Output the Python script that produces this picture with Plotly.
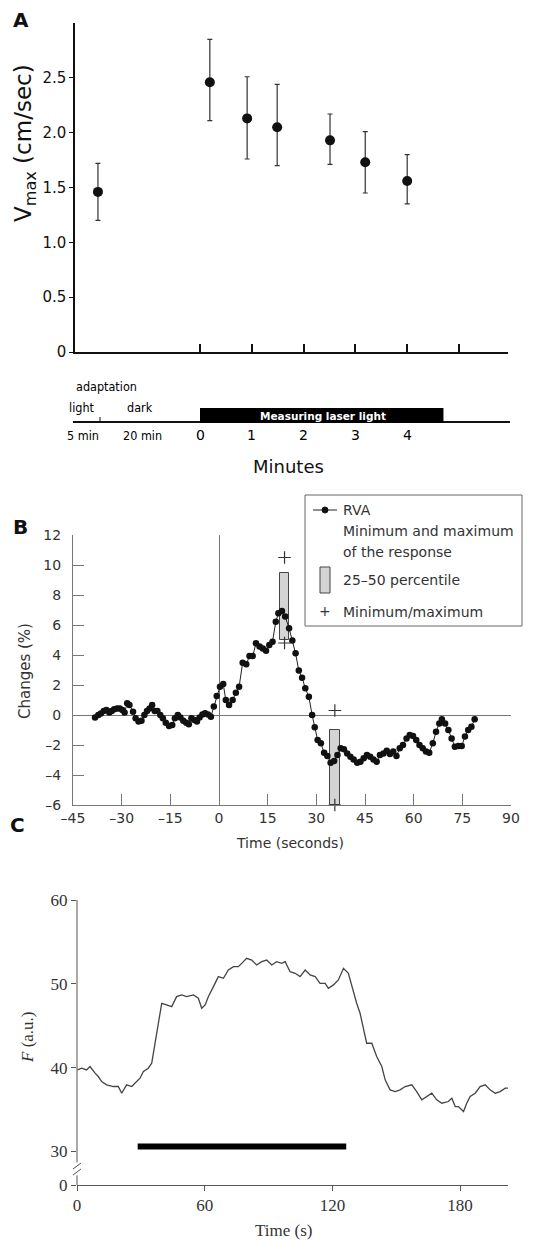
import plotly.graph_objects as go

W, H = 555, 1243
def PX(p): return p / W
def PY(p): return 1 - p / H

# ---------------- Panel A data ----------------
a_minutes = [-1.97, 0.19, 0.91, 1.49, 2.51, 3.19, 4.0]
a_vmax = [1.46, 2.46, 2.13, 2.05, 1.93, 1.73, 1.56]
a_err_hi = [1.72, 2.85, 2.51, 2.44, 2.17, 2.01, 1.80]
a_err_lo = [1.20, 2.11, 1.76, 1.70, 1.71, 1.45, 1.35]
a_yticks = [0, 0.5, 1.0, 1.5, 2.0, 2.5]
a_yticktext = ["0", "0.5", "1.0", "1.5", "2.0", "2.5"]
a_min_labels = ["0", "1", "2", "3", "4"]
laser_on = [0, 4.7]

# ---------------- Panel B data ----------------
b_time = [-38.2, -37.2, -36.4, -35.5, -34.7, -33.8, -33.1, -32.3, -31.4, -30.6,
          -29.8, -29.1, -28.3, -27.6, -26.5, -25.7, -24.8, -23.9, -23.0, -22.2,
          -21.4, -20.6, -19.8, -19.0, -18.1, -17.3, -16.4, -15.4, -14.4, -13.6,
          -12.7, -11.9, -11.0, -10.1, -9.3, -8.5, -7.6, -6.8, -6.0, -5.1,
          -4.3, -3.4, -2.5, -1.6, -0.7, 0.3, 1.3, 2.1, 3.1, 4.2,
          5.2, 6.2, 7.3, 8.4, 9.4, 10.4, 11.4, 12.5, 13.5, 14.5,
          15.5, 16.5, 17.5, 18.3, 19.4, 20.4, 21.6, 22.6, 23.6, 24.6,
          25.6, 26.6, 27.7, 28.7, 29.5, 30.4, 31.4, 32.4, 33.4, 34.4,
          35.5, 36.5, 37.5, 38.5, 39.5, 40.5, 41.5, 42.6, 43.6, 44.6,
          45.6, 46.6, 47.6, 48.6, 49.6, 50.7, 51.7, 52.7, 53.7, 54.7,
          55.7, 56.7, 57.8, 58.8, 59.8, 60.8, 61.8, 62.8, 63.8, 64.8,
          65.9, 66.9, 67.9, 68.7, 69.7, 70.7, 71.7, 72.7, 73.8, 74.8,
          75.8, 76.8, 77.8, 78.8]
b_change = [-0.16, 0.0, 0.10, 0.27, 0.33, 0.16, 0.27, 0.38, 0.44, 0.44,
            0.33, 0.16, 0.78, 0.67, 0.22, -0.22, -0.44, -0.38, 0.0, 0.27,
            0.44, 0.67, 0.27, 0.27, 0.0, -0.22, -0.51, -0.73, -0.67, -0.22,
            0.0, -0.16, -0.38, -0.51, -0.62, -0.22, -0.33, -0.44, -0.16, 0.04,
            0.11, 0.04, -0.11, 0.56, 1.27, 1.89, 2.07, 1.0, 0.67, 1.0,
            1.49, 1.89, 3.49, 3.38, 3.93, 3.93, 4.78, 4.56, 4.44, 4.29,
            4.67, 4.89, 6.22, 6.78, 6.93, 6.56, 5.78, 4.96, 4.11, 2.96,
            2.49, 1.78, 1.22, 0.0, -0.82, -1.67, -1.89, -2.51, -2.73, -3.18,
            -3.07, -2.67, -2.22, -2.29, -2.56, -2.78, -2.96, -3.18, -3.11, -2.89,
            -2.67, -2.78, -2.96, -3.11, -2.67, -2.56, -2.38, -2.60, -2.44, -2.73,
            -2.22, -2.0, -1.56, -1.33, -1.40, -1.67, -2.0, -2.22, -2.44, -2.51,
            -1.89, -1.11, -0.56, -0.29, -0.56, -1.0, -1.56, -2.11, -2.07, -2.07,
            -1.44, -1.0, -0.78, -0.29]
b_box_x = [20.2, 35.7]
b_box_lo = [5.0, -6.0]
b_box_hi = [9.5, -1.0]
b_box_w = [3.0, 3.2]
b_ext_x = [20.2, 20.2, 35.7, 35.7]
b_ext_y = [10.5, 4.8, 0.3, -6.0]
b_xticks = [-45, -30, -15, 0, 15, 30, 45, 60, 75, 90]
b_yticks = [-6, -4, -2, 0, 2, 4, 6, 8, 10, 12]

# ---------------- Panel C data ----------------
c_time = [0.2, 2.2, 4.5, 6.1, 8.5, 10.0, 11.6, 13.9, 17.1, 19.4, 21.0, 23.3, 25.7,
          28.0, 29.6, 31.2, 33.5, 35.1, 36.7, 38.2, 39.8, 42.1, 44.5, 46.8, 49.2,
          51.5, 54.7, 57.0, 58.6, 60.2, 61.7, 64.1, 66.4, 68.8, 71.1, 73.5, 75.8,
          78.2, 79.7, 82.1, 84.4, 86.8, 89.1, 91.5, 93.8, 96.2, 97.8, 100.1, 102.5,
          104.8, 107.2, 109.5, 111.9, 114.2, 116.6, 118.1, 120.5, 122.8, 125.2,
          127.5, 129.1, 131.4, 133.0, 134.6, 136.1, 138.5, 140.8, 143.2, 144.8,
          147.1, 149.5, 151.8, 154.2, 157.3, 159.6, 162.0, 164.3, 166.7, 169.0,
          171.4, 174.5, 176.1, 177.7, 179.2, 181.6, 183.1, 184.7, 187.1, 189.4,
          191.8, 194.1, 196.5, 198.8, 201.2, 202.7]
c_f = [39.73, 39.93, 39.73, 40.13, 39.34, 38.94, 38.34, 37.95, 37.75, 37.75, 36.95,
       37.95, 37.75, 38.34, 38.74, 39.54, 39.93, 40.53, 42.91, 45.30, 47.68, 47.48,
       47.28, 48.47, 48.67, 48.47, 48.67, 48.28, 47.08, 47.48, 48.47, 49.67, 50.86,
       50.66, 51.65, 52.05, 52.05, 52.65, 53.04, 52.84, 52.25, 52.65, 52.84, 52.25,
       52.65, 52.45, 52.65, 51.45, 51.26, 50.86, 51.65, 51.06, 50.86, 50.06, 50.06,
       49.47, 49.87, 50.46, 51.85, 51.26, 49.67, 47.68, 46.49, 44.50, 42.91, 42.91,
       41.32, 40.13, 38.54, 37.35, 37.15, 37.35, 37.75, 37.95, 37.15, 36.16, 36.56,
       36.95, 36.16, 35.76, 35.96, 36.36, 35.36, 35.36, 34.77, 35.76, 36.56, 36.95,
       37.75, 37.95, 37.35, 36.95, 37.15, 37.55, 37.55]
c_stim_x = [28.5, 126.5]
c_stim_y = [30.6, 30.6]
c_xticks = [0, 60, 120, 180]
c_yticks = [26.0, 30, 40, 50, 60]
c_yticktext = ["0", "30", "40", "50", "60"]

SANS = "DejaVu Sans"
SERIF = "Liberation Serif"

fig = go.Figure()

# Panel A
fig.add_trace(go.Scatter(
    x=a_minutes, y=a_vmax, mode="markers", xaxis="x", yaxis="y",
    marker=dict(size=10, color="#111"),
    error_y=dict(type="data", symmetric=False,
                 array=[h - v for h, v in zip(a_err_hi, a_vmax)],
                 arrayminus=[v - l for l, v in zip(a_err_lo, a_vmax)],
                 color="#333", thickness=1.2, width=2.5),
    showlegend=False))

# Panel B
fig.add_trace(go.Bar(
    x=b_box_x, y=[h - l for h, l in zip(b_box_hi, b_box_lo)], base=b_box_lo,
    width=b_box_w, xaxis="x2", yaxis="y2",
    marker=dict(color="#d4d4d4", line=dict(color="#444", width=1)),
    showlegend=False))
fig.add_trace(go.Scatter(
    x=b_time, y=b_change, mode="lines+markers", xaxis="x2", yaxis="y2",
    line=dict(color="#222", width=1),
    marker=dict(size=6.5, color="#111"),
    showlegend=False))
fig.add_trace(go.Scatter(
    x=b_ext_x, y=b_ext_y, mode="markers", xaxis="x2", yaxis="y2",
    marker=dict(symbol="cross-thin", size=9, line=dict(color="#333", width=1.2)),
    cliponaxis=False, showlegend=False))

# Panel C
fig.add_trace(go.Scatter(
    x=c_time, y=c_f, mode="lines", xaxis="x3", yaxis="y3",
    line=dict(color="#444", width=1.3), showlegend=False))
fig.add_trace(go.Scatter(
    x=c_stim_x, y=c_stim_y, mode="lines", xaxis="x3", yaxis="y3",
    line=dict(color="#000", width=6), showlegend=False))

a_x0 = (75 - 200) / 51.8
a_x1 = (508 - 200) / 51.8

layout = dict(
    template="none",
    width=W, height=H, margin=dict(l=0, r=0, t=0, b=0, pad=0, autoexpand=False),
    paper_bgcolor="white", plot_bgcolor="white",
    # ---- A ----
    xaxis=dict(domain=[PX(75), PX(508)], range=[a_x0, a_x1], anchor="y", automargin=False,
               tickvals=[0, 1, 2, 3, 4, 5], showticklabels=False,
               ticks="inside", ticklen=8, tickwidth=1.5, tickcolor="#111",
               showline=True, linecolor="#111", linewidth=2,
               showgrid=False, zeroline=False),
    yaxis=dict(domain=[PY(352), PY(23)], range=[0, 3.0], anchor="x", automargin=False,
               tickvals=a_yticks, ticktext=a_yticktext,
               ticks="outside", ticklen=4, tickcolor="#111",
               tickfont=dict(family=SANS, size=15, color="#111"),
               showline=True, linecolor="#111", linewidth=1.5,
               showgrid=False, zeroline=False),
    # ---- B ----
    xaxis2=dict(domain=[PX(73), PX(511)], range=[-45, 90], anchor="y2", automargin=False,
                tickvals=b_xticks, ticktext=[str(v).replace("-", "\u2013") for v in b_xticks],
                ticks="inside", ticklen=11, tickcolor="#777",
                tickfont=dict(family=SANS, size=14, color="#333"),
                showline=True, linecolor="#777", linewidth=1,
                showgrid=False, zeroline=True, zerolinecolor="#777", zerolinewidth=1),
    yaxis2=dict(domain=[PY(805), PY(535)], range=[-6, 12], anchor="x2", automargin=False,
                tickvals=b_yticks, ticktext=[str(v).replace("-", "\u2013") for v in b_yticks],
                ticks="inside", ticklen=11, tickcolor="#777",
                ticklabelstandoff=8,
                tickfont=dict(family=SANS, size=14, color="#333"),
                showline=True, linecolor="#777", linewidth=1,
                showgrid=False, zeroline=True, zerolinecolor="#777", zerolinewidth=1),
    # ---- C ----
    xaxis3=dict(domain=[PX(77), PX(508)], range=[0, 202.5], anchor="y3", automargin=False,
                tickvals=c_xticks, ticks="outside", ticklen=5, tickcolor="#555",
                tickfont=dict(family=SERIF, size=17, color="#333"),
                showline=True, linecolor="#555", linewidth=1,
                showgrid=False, zeroline=False),
    yaxis3=dict(domain=[PY(1185), PY(900)], range=[26.0, 60], anchor="x3", automargin=False,
                tickvals=c_yticks, ticktext=c_yticktext,
                ticks="outside", ticklen=5, tickcolor="#555",
                tickfont=dict(family=SERIF, size=17, color="#333"),
                showline=False, showgrid=False, zeroline=False),
    bargap=0,
    showlegend=False,
)
fig.update_layout(**layout)

shapes = []
ann = []

def text(x, y, s, size, family=SANS, color="#111", angle=0, bold=False, xanchor="center", xref="paper"):
    if bold:
        s = "<b>" + s + "</b>"
    ann.append(dict(x=x if xref != "paper" else PX(x), y=PY(y), xref=xref, yref="paper",
                    text=s, showarrow=False, xanchor=xanchor, yanchor="middle",
                    textangle=angle, font=dict(family=family, size=size, color=color)))

# ---- Panel A annotations & timeline ----
text(21, 20, "A", 20, bold=True)
text(25, 143, "V<sub>max</sub> (cm/sec)", 23, angle=-90)
shapes.append(dict(type="line", xref="paper", yref="paper",
                   x0=PX(73), x1=PX(510), y0=PY(422), y1=PY(422),
                   line=dict(color="#111", width=2)))
shapes.append(dict(type="line", xref="paper", yref="paper",
                   x0=PX(100), x1=PX(100), y0=PY(417), y1=PY(422),
                   line=dict(color="#111", width=1)))
shapes.append(dict(type="rect", xref="x", yref="paper",
                   x0=laser_on[0], x1=laser_on[1], y0=PY(423), y1=PY(408),
                   fillcolor="#000", line=dict(width=0)))
text(323, 416, "Measuring laser light", 10.5, color="white", bold=True)
COND = "DejaVu Sans Condensed"
text(106, 386, "adaptation", 12.5, family=COND, color="#000")
text(82, 407, "light", 12.5, family=COND, color="#000")
text(140, 407, "dark", 12.5, family=COND, color="#000")
text(83, 435, "5 min", 12.5, family=COND, color="#000")
text(142, 435, "20 min", 12.5, family=COND, color="#000")
for i, lab in enumerate(a_min_labels):
    ann.append(dict(x=i, y=PY(435), xref="x", yref="paper", text=lab, showarrow=False,
                    xanchor="center", yanchor="middle",
                    font=dict(family=SANS, size=14, color="#000")))
text(288, 467, "Minutes", 18)

# ---- Panel B annotations & legend ----
text(20, 527, "B", 20, bold=True)
text(25, 671, "Changes (%)", 15, color="#333", angle=-90)
text(290, 843, "Time (seconds)", 14, color="#333")
shapes.append(dict(type="rect", xref="paper", yref="paper",
                   x0=PX(305), x1=PX(522), y0=PY(626), y1=PY(495),
                   fillcolor="white", line=dict(color="#666", width=1), layer="above"))
shapes.append(dict(type="line", xref="paper", yref="paper",
                   x0=PX(313), x1=PX(337), y0=PY(510), y1=PY(510),
                   line=dict(color="#222", width=1), layer="above"))
shapes.append(dict(type="circle", xref="paper", yref="paper",
                   x0=PX(322), x1=PX(328), y0=PY(513), y1=PY(507),
                   fillcolor="#111", line=dict(color="#111", width=1), layer="above"))
shapes.append(dict(type="rect", xref="paper", yref="paper",
                   x0=PX(320), x1=PX(330), y0=PY(593), y1=PY(567),
                   fillcolor="#d4d4d4", line=dict(color="#444", width=1), layer="above"))
text(341, 510, "RVA", 14, color="#333", xanchor="left")
text(341, 531, "Minimum and maximum", 14, color="#333", xanchor="left")
text(341, 552, "of the response", 14, color="#333", xanchor="left")
text(341, 580, "25\u201350 percentile", 14, color="#333", xanchor="left")
text(325, 611, "+", 14, color="#333")
text(341, 612, "Minimum/maximum", 14, color="#333", xanchor="left")

# ---- Panel C annotations & broken axis ----
text(17, 825, "C", 20, bold=True)
text(27, 1037, "<i>F</i> (a.u.)", 17, family=SERIF, color="#333", angle=-90)
text(283, 1230, "Time (s)", 17, family=SERIF, color="#333")
ax_x = PX(77)
shapes.append(dict(type="line", xref="paper", yref="y3", x0=ax_x, x1=ax_x,
                   y0=60, y1=30 - (1163 - 1152) / 8.4, line=dict(color="#555", width=1)))
shapes.append(dict(type="line", xref="paper", yref="y3", x0=ax_x, x1=ax_x,
                   y0=30 - (1176 - 1152) / 8.4, y1=26.0, line=dict(color="#555", width=1)))
for dy in (0, 6):
    shapes.append(dict(type="line", xref="paper", yref="paper",
                       x0=PX(73), x1=PX(81), y0=PY(1169 + dy), y1=PY(1163 + dy),
                       line=dict(color="#555", width=1)))

fig.update_layout(shapes=shapes, annotations=ann)
fig.write_html("out.html", config={"displayModeBar": False},
               post_script="document.body.style.margin='0';document.body.style.padding='0';")
